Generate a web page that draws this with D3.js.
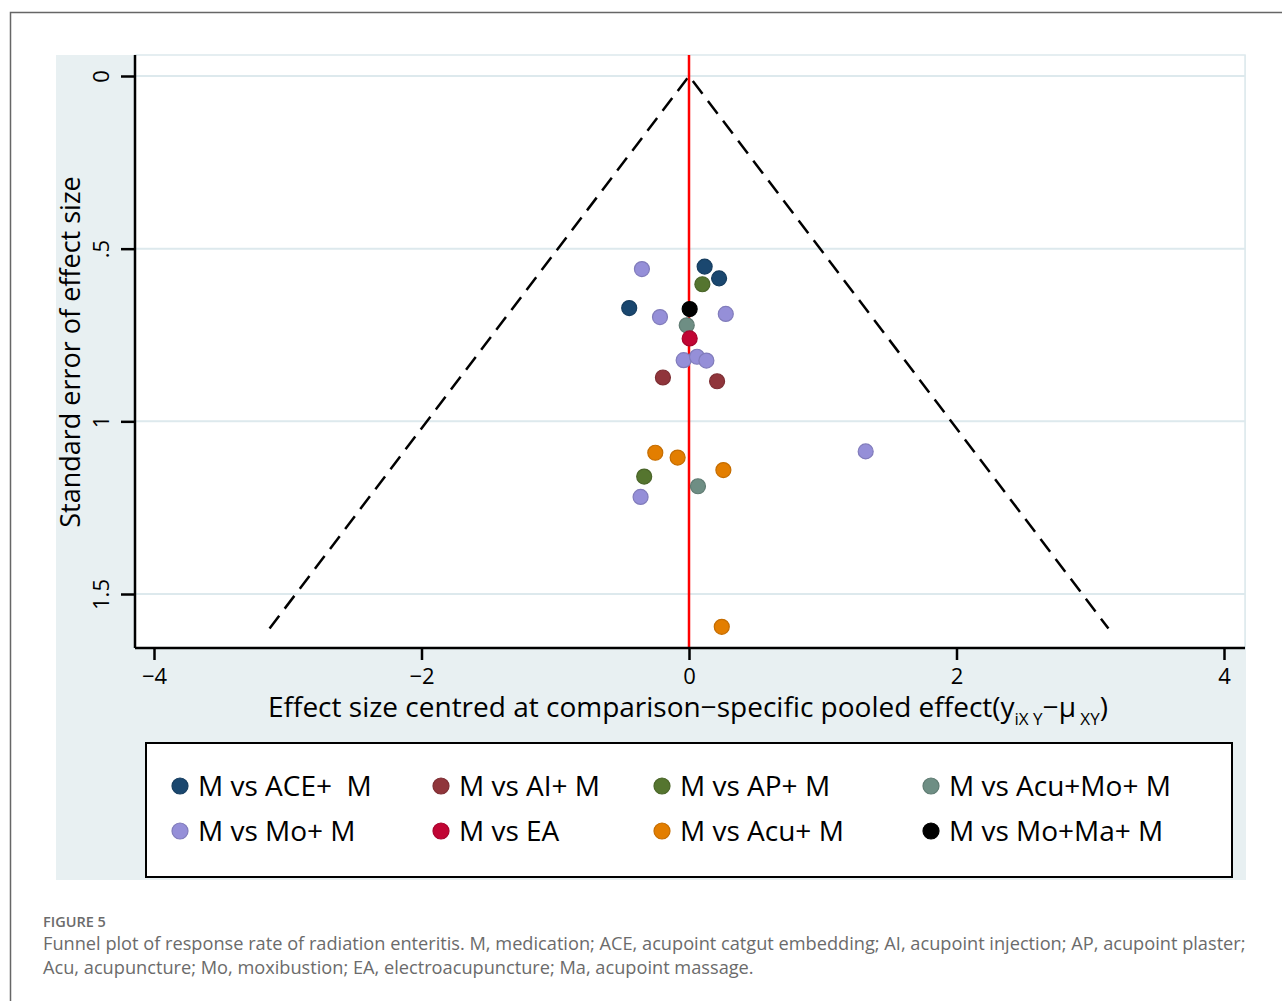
<!DOCTYPE html>
<html>
<head>
<meta charset="utf-8">
<script src="https://cdn.jsdelivr.net/npm/d3@7"></script>
<style>
  body { margin: 0; background: #fff; }
  svg { display: block; }
</style>
</head>
<body>
<svg id="funnel" width="1282" height="1001"></svg>
<script>
// comparisons shown in the legend, in legend order (row by row)
const comparisons = [
  "M vs ACE+  M", "M vs AI+ M", "M vs AP+ M", "M vs Acu+Mo+ M",
  "M vs Mo+ M", "M vs EA", "M vs Acu+ M", "M vs Mo+Ma+ M"
];
const comparisonColors = [
  "#1a476f", "#90353b", "#55752f", "#6e8e84",
  "#958fd8", "#c10534", "#e37e00", "#000000"
];

// centred effect size (x) and standard error (y) per comparison
const effectACE = [0.117, 0.225, -0.447];
const seACE = [0.552, 0.586, 0.672];
const effectAI = [-0.195, 0.21];
const seAI = [0.873, 0.884];
const effectAP = [0.10, -0.335];
const seAP = [0.603, 1.160];
const effectAcuMo = [-0.017, 0.067];
const seAcuMo = [0.722, 1.188];
const effectMo = [-0.352, -0.217, 0.275, -0.04, 0.06, 0.13, 1.321, -0.362];
const seMo = [0.559, 0.698, 0.689, 0.823, 0.813, 0.824, 1.087, 1.219];
const effectEA = [0.005];
const seEA = [0.76];
const effectAcu = [-0.252, -0.085, 0.257, 0.245];
const seAcu = [1.091, 1.105, 1.141, 1.595];
const effectMoMa = [0.005];
const seMoMa = [0.675];

const xTicks = [-4, -2, 0, 2, 4];
const yTicks = [0, 0.5, 1, 1.5];
const yTickLabels = ["0", ".5", "1", "1.5"];
const funnelMaxSe = 1.6;

const seriesEffects = [effectACE, effectAI, effectAP, effectAcuMo, effectMo, effectEA, effectAcu, effectMoMa];
const seriesSe = [seACE, seAI, seAP, seAcuMo, seMo, seEA, seAcu, seMoMa];

const points = [];
seriesEffects.forEach((xs, i) => {
  xs.forEach((v, j) => points.push({ x: v, se: seriesSe[i][j], group: i }));
});

const svg = d3.select("#funnel");
const font = "'Open Sans', 'Noto Sans', sans-serif";

// outer figure frame (top and left rules)
svg.append("path")
  .attr("d", "M10.5,1001 V12.5 H1282")
  .attr("fill", "none")
  .attr("stroke", "#666")
  .attr("stroke-width", 1.5);

// graph region background
const bg = { left: 56, top: 55, right: 1246, bottom: 880 };
svg.append("rect")
  .attr("x", bg.left).attr("y", bg.top)
  .attr("width", bg.right - bg.left).attr("height", bg.bottom - bg.top)
  .attr("fill", "#e8f0f2");

// plot region
const plot = { left: 135, top: 55, right: 1245, bottom: 648 };
svg.append("rect")
  .attr("x", plot.left).attr("y", plot.top)
  .attr("width", plot.right - plot.left).attr("height", plot.bottom - plot.top)
  .attr("fill", "#ffffff")
  .attr("stroke", "#dde9ed")
  .attr("stroke-width", 1.5);

// scales
const x = d3.scaleLinear().domain([-4, 4]).range([154, 1224]);
const y = d3.scaleLinear().domain([0, 1.5]).range([76, 594]);

// horizontal grid lines
svg.append("g")
  .selectAll("line")
  .data(yTicks)
  .join("line")
  .attr("x1", plot.left).attr("x2", plot.right)
  .attr("y1", (d) => y(d)).attr("y2", (d) => y(d))
  .attr("stroke", "#dde9ed")
  .attr("stroke-width", 2);

// funnel (pseudo 95% limits)
const funnel = [
  { x: -1.96 * funnelMaxSe, se: funnelMaxSe },
  { x: 0, se: 0 },
  { x: 1.96 * funnelMaxSe, se: funnelMaxSe }
];
svg.append("path")
  .datum(funnel)
  .attr("d", d3.line().x((d) => x(d.x)).y((d) => y(d.se)))
  .attr("fill", "none")
  .attr("stroke", "#000")
  .attr("stroke-width", 2.5)
  .attr("stroke-dasharray", "16 9");

// reference line at zero
svg.append("line")
  .attr("x1", x(0)).attr("x2", x(0))
  .attr("y1", plot.top).attr("y2", plot.bottom)
  .attr("stroke", "#ff0000")
  .attr("stroke-width", 2.5);

// points
svg.append("g")
  .selectAll("circle")
  .data(points)
  .join("circle")
  .attr("cx", (d) => x(d.x))
  .attr("cy", (d) => y(d.se))
  .attr("r", 7.5)
  .attr("fill", (d) => comparisonColors[d.group])
  .attr("stroke", (d) => d3.color(comparisonColors[d.group]).darker(0.4))
  .attr("stroke-width", 1.2);

// axes
const xAxis = svg.append("g")
  .attr("transform", `translate(0,${plot.bottom})`)
  .call(d3.axisBottom(x).tickValues(xTicks).tickSize(12).tickPadding(4)
    .tickFormat((d) => d3.format("d")(d).replace("-", "\u2212")));
xAxis.select(".domain").attr("d", `M${plot.left},0H${plot.right}`);
const yAxis = svg.append("g")
  .attr("transform", `translate(${plot.left},0)`)
  .call(d3.axisLeft(y).tickValues(yTicks).tickSize(14).tickFormat((d, i) => yTickLabels[i]));
yAxis.select(".domain").attr("d", `M0,${plot.top}V${plot.bottom}`);

[xAxis, yAxis].forEach((g) => {
  g.selectAll(".domain").attr("stroke", "#000").attr("stroke-width", 2.5);
  g.selectAll(".tick line").attr("stroke", "#000").attr("stroke-width", 2.5);
  g.selectAll(".tick text")
    .attr("fill", "#000")
    .style("font-family", font)
    .style("font-size", "22px");
});
xAxis.selectAll(".tick text").attr("dy", "0.9em");
// stata style: y tick labels turned vertical
yAxis.selectAll(".tick text")
  .attr("x", null).attr("dy", null)
  .attr("text-anchor", "middle")
  .attr("transform", "translate(-35,0) rotate(-90)")
  .attr("dominant-baseline", "central");

// axis titles
svg.append("text")
  .attr("transform", "translate(80,352) rotate(-90)")
  .attr("text-anchor", "middle")
  .style("font-family", font)
  .style("font-size", "27px")
  .text("Standard error of effect size");

const xTitle = svg.append("text")
  .attr("x", 268).attr("y", 717)
  .style("font-family", font)
  .style("font-size", "28px");
xTitle.append("tspan").text("Effect size centred at comparison\u2212specific pooled effect(y");
xTitle.append("tspan").attr("dy", 8).style("font-size", "17px").text("iX Y");
xTitle.append("tspan").attr("dy", -8).text("\u2212\u03bc");
xTitle.append("tspan").attr("dy", 8).style("font-size", "17px").text(" XY");
xTitle.append("tspan").attr("dy", -8).text(")");

// legend
svg.append("rect")
  .attr("x", 146).attr("y", 743)
  .attr("width", 1086).attr("height", 134)
  .attr("fill", "#fff")
  .attr("stroke", "#000")
  .attr("stroke-width", 2);

const legendCols = [180, 441, 662, 931];
const legendRows = [786, 831];
const legend = svg.append("g")
  .selectAll("g")
  .data(comparisons)
  .join("g")
  .attr("transform", (d, i) => `translate(${legendCols[i % 4]},${legendRows[Math.floor(i / 4)]})`);
legend.append("circle")
  .attr("r", 8)
  .attr("fill", (d, i) => comparisonColors[i])
  .attr("stroke", (d, i) => d3.color(comparisonColors[i]).darker(0.4))
  .attr("stroke-width", 1.2);
legend.append("text")
  .attr("x", 18)
  .attr("dy", "0.36em")
  .style("font-family", font)
  .style("font-size", "28px")
  .style("white-space", "pre")
  .text((d) => d);

// caption
svg.append("text")
  .attr("x", 43).attr("y", 927)
  .attr("fill", "#6b6b6b")
  .style("font-family", font)
  .style("font-size", "14.5px")
  .style("font-weight", 600)
  .text("FIGURE 5");
const captionLines = [
  "Funnel plot of response rate of radiation enteritis. M, medication; ACE, acupoint catgut embedding; AI, acupoint injection; AP, acupoint plaster;",
  "Acu, acupuncture; Mo, moxibustion; EA, electroacupuncture; Ma, acupoint massage."
];
svg.append("g")
  .selectAll("text")
  .data(captionLines)
  .join("text")
  .attr("x", 43)
  .attr("y", (d, i) => 950 + i * 24)
  .attr("fill", "#6b6b6b")
  .style("font-family", font)
  .style("font-size", "18.2px")
  .text((d) => d);
</script>
</body>
</html>
